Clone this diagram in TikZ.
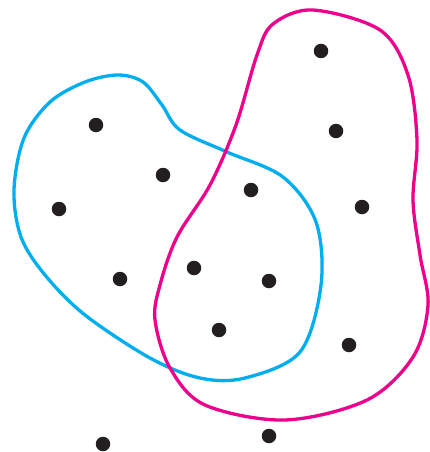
\documentclass[tikz,border=0pt]{standalone}
\definecolor{setblue}{RGB}{0,174,239}
\definecolor{setmag}{RGB}{236,0,140}
\definecolor{dotc}{RGB}{35,31,32}
\begin{document}
\begin{tikzpicture}[x=1pt,y=-1pt,
  dotnode/.style={circle,fill=dotc,inner sep=0pt,minimum size=14.5pt},
  setline/.style={line width=3.3pt}]
\useasboundingbox (0,0) rectangle (430,452);
\draw[setline,setblue] plot[smooth cycle,tension=0.55] coordinates {
 (21,237) (14,190) (24,138) (50,102) (85,82) (118,75) (143,82) (162,105) (180,130)
 (227,152) (283,177) (316,222) (321,285) (300,352) (245,378) (200,378) (150,358) (85,315) (45,275)};
\draw[setline,setmag] plot[smooth cycle,tension=0.55] coordinates {
 (273,24) (313,10) (380,30) (408,75) (417,140) (413,200) (420,255) (428,305)
 (413,357) (367,400) (285,420) (205,405) (170,368) (155,320) (160,285) (177,237)
 (210,185) (236,125) (257,55)};
\node[dotnode] (d1) at (321,51) {};
\node[dotnode] (d2) at (96,125) {};
\node[dotnode] (d3) at (336,131) {};
\node[dotnode] (d4) at (163,175) {};
\node[dotnode] (d5) at (251,190) {};
\node[dotnode] (d6) at (59,209) {};
\node[dotnode] (d7) at (362,207) {};
\node[dotnode] (d8) at (194,268) {};
\node[dotnode] (d9) at (269,281) {};
\node[dotnode] (d10) at (120,279) {};
\node[dotnode] (d11) at (219,330) {};
\node[dotnode] (d12) at (349,345) {};
\node[dotnode] (d13) at (103,444) {};
\node[dotnode] (d14) at (269,436) {};
\end{tikzpicture}
\end{document}
